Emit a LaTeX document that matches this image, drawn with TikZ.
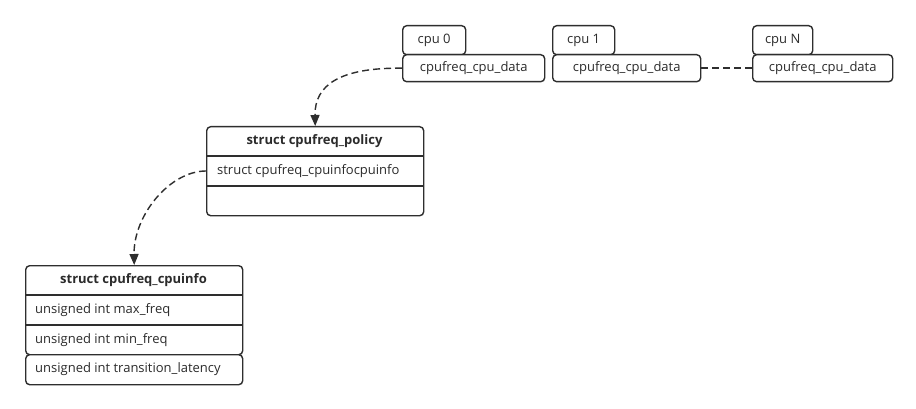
\documentclass[tikz,border=0pt]{standalone}
\usepackage{fontspec}
\setmainfont{Open Sans}
\usetikzlibrary{arrows.meta}
\definecolor{lc}{HTML}{2E2E2E}
\definecolor{tc}{HTML}{2B2B2B}
\begin{document}
\begin{tikzpicture}[x=1pt,y=-1pt,
  box/.style={draw=lc, line width=1.4pt, rounded corners=4pt, fill=white, inner sep=0pt, anchor=north west, text=tc, font=\fontsize{13}{15}\selectfont},
  txt/.style={text=tc, font=\fontsize{13}{15}\selectfont, inner sep=0pt},
  hdr/.style={text=tc, font=\fontsize{13}{15}\selectfont\bfseries, inner sep=0pt},
  sep/.style={draw=lc, line width=1.4pt},
  conn/.style={draw=lc, line width=1.4pt, dash pattern=on 7pt off 4pt},
  tip/.style={-{Triangle[length=11pt,width=9pt]}}
  ]
\useasboundingbox[fill=white] (0,0) rectangle (916,409);

% cpu boxes
\node[box, minimum width=63pt, minimum height=29pt] (cpu0) at (402,25) {cpu 0};
\node[box, minimum width=142pt, minimum height=27pt] (d0) at (402,54) {cpufreq\_cpu\_data};
\node[box, minimum width=62pt, minimum height=29pt] (cpu1) at (552,25) {cpu 1};
\node[box, minimum width=148pt, minimum height=27pt] (d1) at (552,54) {cpufreq\_cpu\_data};
\node[box, minimum width=60pt, minimum height=29pt] (cpuN) at (752,25) {cpu N};
\node[box, minimum width=140pt, minimum height=27pt] (dN) at (752,54) {cpufreq\_cpu\_data};

% policy
\node[box, minimum width=217pt, minimum height=89pt] (policy) at (206,126) {};
\coordinate (ps1l) at (206,156); \coordinate (ps1r) at (423,156);
\coordinate (ps2l) at (206,186); \coordinate (ps2r) at (423,186);
\draw[sep] (ps1l) -- (ps1r);
\draw[sep] (ps2l) -- (ps2r);
\node[hdr] (policyhead) at (314.5,141) {struct cpufreq\_policy};
\coordinate (prow) at (206,171);
\node[txt, anchor=west] (policyrow) at (217,171) {struct cpufreq\_cpuinfocpuinfo};

% cpuinfo
\node[box, minimum width=217pt, minimum height=89pt] (cpuinfo) at (25,265) {};
\coordinate (cs1l) at (25,295); \coordinate (cs1r) at (242,295);
\coordinate (cs2l) at (25,325); \coordinate (cs2r) at (242,325);
\draw[sep] (cs1l) -- (cs1r);
\draw[sep] (cs2l) -- (cs2r);
\node[box, minimum width=217pt, minimum height=30pt] (lat) at (25,354) {};
\node[hdr] (cihead) at (133.5,280) {struct cpufreq\_cpuinfo};
\node[txt, anchor=west] (cimax) at (35,310) {unsigned int max\_freq};
\node[txt, anchor=west] (cimin) at (35,340) {unsigned int min\_freq};
\node[txt, anchor=west] (cilat) at (35,369) {unsigned int transition\_latency};

% connectors
\draw[conn, tip] (d0.west) .. controls (340,67.5) and (314.5,85) .. (policy.north);
\draw[conn, tip] (prow) .. controls (170,171) and (133.5,215) .. (cpuinfo.north);
\draw[conn] (d1.east) -- (dN.west);
\end{tikzpicture}
\end{document}
